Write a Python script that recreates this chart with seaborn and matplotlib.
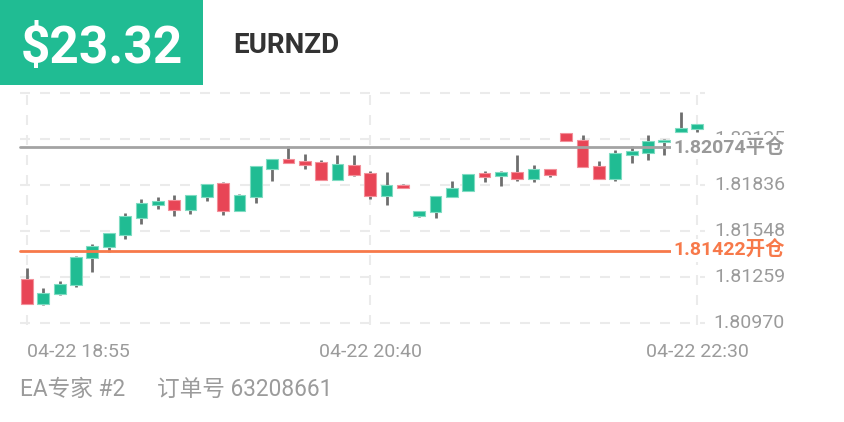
import matplotlib
matplotlib.use("Agg")
import matplotlib.pyplot as plt
import matplotlib.transforms as mtransforms
import numpy as np
import pandas as pd
import seaborn as sns

# candle data, 5 min bars
opens = [1.81242, 1.81085, 1.81147, 1.81204, 1.81374, 1.81447, 1.81522, 1.81629, 1.81711, 1.81738,
         1.81675, 1.81760, 1.81846, 1.81673, 1.81758, 1.81938, 1.81999, 1.81988, 1.81978, 1.81867,
         1.81963, 1.81911, 1.81766, 1.81833, 1.81643, 1.81663, 1.81758, 1.81799, 1.81909, 1.81890,
         1.81917, 1.81875, 1.81936, 1.82160, 1.82118, 1.81957, 1.81873, 1.82026, 1.82038, 1.82104,
         1.82169, 1.82188]
highs = [1.81313, 1.81187, 1.81233, 1.81390, 1.81462, 1.81533, 1.81661, 1.81745, 1.81758, 1.81770,
         1.81770, 1.81843, 1.81854, 1.81779, 1.81955, 1.81997, 1.82082, 1.82030, 1.81992, 1.82024,
         1.82026, 1.81923, 1.81917, 1.81843, 1.81673, 1.81768, 1.81860, 1.81906, 1.81921, 1.81923,
         1.82024, 1.81961, 1.81936, 1.82164, 1.82150, 1.81984, 1.82054, 1.82082, 1.82148, 1.82123,
         1.82293, 1.82217]
lows = [1.81085, 1.81083, 1.81143, 1.81195, 1.81286, 1.81414, 1.81497, 1.81590, 1.81686, 1.81640,
        1.81653, 1.81734, 1.81648, 1.81673, 1.81724, 1.81862, 1.81972, 1.81938, 1.81865, 1.81867,
        1.81894, 1.81747, 1.81711, 1.81814, 1.81636, 1.81629, 1.81758, 1.81795, 1.81852, 1.81827,
        1.81862, 1.81852, 1.81884, 1.82110, 1.81947, 1.81873, 1.81858, 1.81974, 1.81994, 1.82024,
        1.82169, 1.82171]
closes = [1.81085, 1.81158, 1.81214, 1.81384, 1.81453, 1.81531, 1.81640, 1.81720, 1.81736, 1.81680,
          1.81770, 1.81843, 1.81673, 1.81770, 1.81955, 1.81997, 1.81975, 1.81959, 1.81865, 1.81965,
          1.81900, 1.81768, 1.81833, 1.81814, 1.81673, 1.81768, 1.81814, 1.81906, 1.81887, 1.81917,
          1.81875, 1.81936, 1.81896, 1.82110, 1.81947, 1.81873, 1.82037, 1.82049, 1.82110, 1.82116,
          1.82196, 1.82217]

tick_idx = [0, 21, 41]
tick_labels = ["04-22 18:55", "04-22 20:40", "04-22 22:30"]
price_grid = [1.80970, 1.81259, 1.81548, 1.81836, 1.82125, 1.82414]
price_labels = ["1.80970", "1.81259", "1.81548", "1.81836", "1.82125"]
close_price = 1.82074
open_price = 1.81422
profit = "$23.32"
symbol = "EURNZD"
ea_name = "EA专家 #2"
order_no = "订单号 63208661"

GREEN = "#20bc93"
RED = "#e84556"
ORANGE = "#f7794a"
GREY_LINE = "#a3a3a3"
TXT = "#9b9b9b"

sns.set_style("white")
plt.rcParams["font.family"] = ["Roboto", "Noto Sans CJK SC", "DejaVu Sans"]

W, H = 844, 422
fig = plt.figure(figsize=(W / 100, H / 100), dpi=100)

df = pd.DataFrame({"open": opens, "high": highs, "low": lows, "close": closes})
df["x"] = np.arange(len(df))
df["up"] = df["close"] >= df["open"]
df["bottom"] = df[["open", "close"]].min(axis=1)
df["height"] = (df["close"] - df["open"]).abs().clip(lower=0.00003)

# axes placed in pixel terms
ylo, yhi = 1.80955, 1.82429
ax = fig.add_axes([20 / W, (H - 324.9) / H, 685 / W, 234.3 / H])
ax.set_xlim(-0.428, 41.49)
ax.set_ylim(ylo, yhi)
sns.despine(ax=ax, left=True, bottom=True, right=True, top=True)

# grid
ax.set_yticks(price_grid)
ax.set_yticklabels([])
ax.set_xticks(tick_idx)
ax.set_xticklabels(tick_labels, fontsize=14, color=TXT)
ax.tick_params(axis="both", length=0)
ax.tick_params(axis="x", pad=13)
ax.grid(True, color="#ebebeb", linewidth=1.5, linestyle=(0, (4.8, 4.8)), zorder=0)
ax.set_axisbelow(True)
lbls = ax.get_xticklabels()
lbls[0].set_ha("left")

# wicks then bodies
ax.vlines(df["x"], df["low"], df["high"], color="#6e6e6e", linewidth=2, zorder=2)
colors = [GREEN if u else RED for u in df["up"]]
edges = ["#7fdcc2" if u else "#f3909a" for u in df["up"]]
ax.bar(df["x"], df["height"], bottom=df["bottom"], width=0.72, color=colors,
       edgecolor=edges, linewidth=0.8, zorder=3)

trans = mtransforms.blended_transform_factory(fig.transFigure, ax.transData)

# price labels on the right
for v, s in zip(price_grid, price_labels):
    ax.text(785 / W, v, s, transform=trans, ha="right", va="center",
            fontsize=14, color=TXT, clip_on=False, zorder=4)

# close / open lines
ax.plot([20 / W, 676 / W], [close_price, close_price], transform=trans,
        color=GREY_LINE, linewidth=2, clip_on=False, zorder=4)
ax.text(785 / W, close_price, "{:.5f}平仓".format(close_price), transform=trans,
        ha="right", va="center", fontsize=14, fontweight="bold", color="#999999",
        clip_on=False, zorder=5,
        bbox=dict(facecolor="white", edgecolor="none", pad=1.5))
ax.plot([20 / W, 676 / W], [open_price, open_price], transform=trans,
        color=ORANGE, linewidth=2, clip_on=False, zorder=4)
ax.text(785 / W, open_price, "{:.5f}开仓".format(open_price), transform=trans,
        ha="right", va="center", fontsize=14, fontweight="bold", color=ORANGE,
        clip_on=False, zorder=5,
        bbox=dict(facecolor="white", edgecolor="none", pad=1.5))

# header
fig.patches.append(plt.Rectangle((0, 1 - 85 / H), 203 / W, 85 / H, transform=fig.transFigure,
                                 facecolor=GREEN, edgecolor="none"))
fig.text(21 / W, 1 - 63 / H, profit, fontsize=37, fontweight="bold", color="white",
         va="baseline", ha="left")
fig.text(233 / W, 1 - 53 / H, symbol, fontsize=20, fontweight="bold", color="#333333",
         va="baseline", ha="left")

# footer
fig.text(20 / W, 1 - 396 / H, ea_name, fontsize=16.3, color=TXT, va="baseline", ha="left")
fig.text(157 / W, 1 - 396 / H, order_no, fontsize=16.3, color=TXT, va="baseline", ha="left")

fig.savefig("out.png", dpi=100, facecolor="white")
